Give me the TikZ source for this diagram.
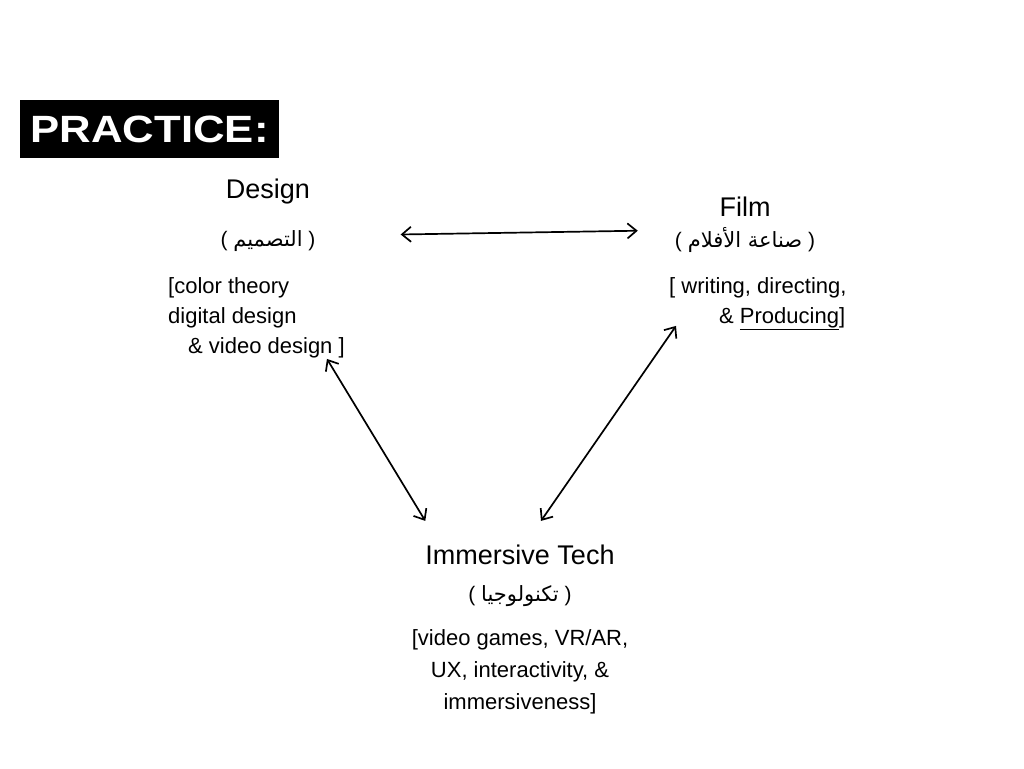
\documentclass[tikz,border=0pt]{standalone}
\usepackage{fontspec}
\setmainfont{Liberation Sans}
\newfontfamily\arabicfont[Script=Arabic]{DejaVu Sans}
\newfontfamily\bannerfont[FakeStretch=1.15]{Liberation Sans}
\TeXXeTstate=1
\usetikzlibrary{positioning, arrows.meta}

\begin{document}
\begin{tikzpicture}[
  x=1pt, y=-1pt,
  banner/.style={fill=black, text=white, font=\bannerfont\bfseries\fontsize{38}{40}\selectfont, minimum width=259pt, minimum height=58pt, inner sep=0pt},
  title/.style={font=\fontsize{27}{30}\selectfont, inner sep=1pt},
  arab/.style={font=\fontsize{21}{24}\selectfont, inner sep=1pt},
  detail/.style={font=\fontsize{22}{30}\selectfont, inner sep=1pt},
  arr/.style={{Straight Barb[length=9pt,width=15pt]}-{Straight Barb[length=9pt,width=15pt]}, line width=1.7pt},
]

% page
\fill[white] (0,0) rectangle (1024,768);

% === BANNER ===
\node[banner, anchor=north west] (practice) at (20,100) {PRACTICE:};

% === DESIGN ===
\node[title] (designT) at (268,192) {Design};
\node[arab, below=24pt of designT] (designAr) {( {\arabicfont\beginR التصميم\endR} )};
\node[detail, align=left, anchor=north west] (designD) at (167,276) {[color theory\\digital design\\\hspace{20pt}\& video design ]};

% === FILM ===
\node[title] (filmT) at (745,207) {Film};
\node[arab, below=8pt of filmT] (filmAr) {( {\arabicfont\beginR صناعة الأفلام\endR} )};
\node[detail, align=left, anchor=north west] (filmD) at (668,276) {[ writing, directing,\\\hspace{50pt}\& \underline{Producing}]};

% === IMMERSIVE TECH ===
\node[title] (techT) at (520,555) {Immersive Tech};
\node[arab, below=18pt of techT] (techAr) {( {\arabicfont\beginR تكنولوجيا\endR} )};
\node[detail, align=center, anchor=north, font=\fontsize{22}{32}\selectfont] (techD) at (520,628) {[video games, VR/AR,\\UX, interactivity, \&\\immersiveness]};

% links
\draw[arr] ([shift={(84,-7)}]designAr.east) -- ([shift={(-36,-9)}]filmAr.west);
\draw[arr] ([shift={(-19,0)}]designD.south east) -- ([shift={(1,-23)}]techT.north west);
\draw[arr] ([shift={(8,-5)}]filmD.south west) -- ([shift={(21,-23)}]techT.north);

\end{tikzpicture}
\end{document}
